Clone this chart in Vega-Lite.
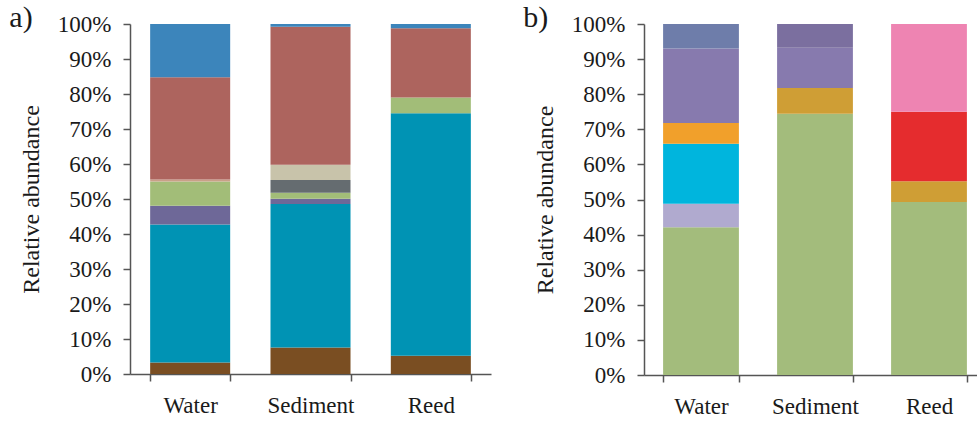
{
  "$schema": "https://vega.github.io/schema/vega-lite/v6.json",
  "padding": {"left": 9, "top": 3, "right": 0, "bottom": 0},
  "bounds": "flush",
  "spacing": 153,
  "config": {
    "font": "Liberation Serif",
    "view": {"stroke": null},
    "axis": {
      "labelFont": "Liberation Serif",
      "titleFont": "Liberation Serif",
      "labelFontSize": 23,
      "titleFontSize": 24,
      "labelColor": "#1a1a1a",
      "titleColor": "#1a1a1a",
      "titleFontWeight": "normal",
      "domainColor": "#555555",
      "tickColor": "#555555",
      "domainWidth": 1.5,
      "tickWidth": 1.5,
      "tickSize": 7,
      "grid": false
    },
    "title": {"font": "Liberation Serif", "fontSize": 30, "fontWeight": "normal", "color": "#1a1a1a", "anchor": "start", "frame": "bounds"}
  },
  "datasets": {
    "bacteria": [
      {"site": "Water", "taxon": "A1", "rank": 1, "pct": 3.3},
      {"site": "Water", "taxon": "A2", "rank": 2, "pct": 39.4},
      {"site": "Water", "taxon": "A3", "rank": 3, "pct": 5.4},
      {"site": "Water", "taxon": "A4", "rank": 4, "pct": 6.9},
      {"site": "Water", "taxon": "A5", "rank": 5, "pct": 0.6},
      {"site": "Water", "taxon": "A8", "rank": 8, "pct": 29.2},
      {"site": "Water", "taxon": "A9", "rank": 9, "pct": 15.2},
      {"site": "Sediment", "taxon": "A1", "rank": 1, "pct": 7.6},
      {"site": "Sediment", "taxon": "A2", "rank": 2, "pct": 41.0},
      {"site": "Sediment", "taxon": "A3", "rank": 3, "pct": 1.5},
      {"site": "Sediment", "taxon": "A4", "rank": 4, "pct": 1.7},
      {"site": "Sediment", "taxon": "A6", "rank": 6, "pct": 3.6},
      {"site": "Sediment", "taxon": "A7", "rank": 7, "pct": 4.4},
      {"site": "Sediment", "taxon": "A8", "rank": 8, "pct": 39.4},
      {"site": "Sediment", "taxon": "A9", "rank": 9, "pct": 0.8},
      {"site": "Reed", "taxon": "A1", "rank": 1, "pct": 5.2},
      {"site": "Reed", "taxon": "A2", "rank": 2, "pct": 69.3},
      {"site": "Reed", "taxon": "A4", "rank": 4, "pct": 4.5},
      {"site": "Reed", "taxon": "A8", "rank": 8, "pct": 19.8},
      {"site": "Reed", "taxon": "A9", "rank": 9, "pct": 1.2}
    ],
    "fungi": [
      {"site": "Water", "taxon": "B1", "rank": 1, "pct": 42.1},
      {"site": "Water", "taxon": "B2", "rank": 2, "pct": 6.7},
      {"site": "Water", "taxon": "B3", "rank": 3, "pct": 17.1},
      {"site": "Water", "taxon": "B4", "rank": 4, "pct": 5.9},
      {"site": "Water", "taxon": "B7", "rank": 7, "pct": 21.2},
      {"site": "Water", "taxon": "B8", "rank": 8, "pct": 7.0},
      {"site": "Sediment", "taxon": "B1", "rank": 1, "pct": 74.4},
      {"site": "Sediment", "taxon": "B5", "rank": 5, "pct": 7.4},
      {"site": "Sediment", "taxon": "B7", "rank": 7, "pct": 11.4},
      {"site": "Sediment", "taxon": "B9", "rank": 9, "pct": 6.8},
      {"site": "Reed", "taxon": "B1", "rank": 1, "pct": 49.3},
      {"site": "Reed", "taxon": "B5", "rank": 5, "pct": 5.9},
      {"site": "Reed", "taxon": "B6", "rank": 6, "pct": 19.8},
      {"site": "Reed", "taxon": "B10", "rank": 10, "pct": 25.0}
    ]
  },
  "resolve": {"scale": {"color": "independent", "x": "independent", "y": "independent"}},
  "hconcat": [
    {
      "width": 361,
      "height": 350,
      "title": {"text": "a)", "offset": -20, "dx": -10},
      "data": {"name": "bacteria"},
      "mark": {"type": "bar"},
      "encoding": {
        "x": {
          "field": "site", "type": "nominal", "sort": ["Water", "Sediment", "Reed"],
          "scale": {"paddingInner": 0.335, "paddingOuter": 0.1675},
          "axis": {"title": null, "labelAngle": 0, "tickBand": "extent", "labelPadding": 13}
        },
        "y": {
          "field": "pct", "type": "quantitative", "stack": "zero",
          "scale": {"domain": [0, 100], "nice": false},
          "axis": {"title": "Relative abundance", "values": [0, 10, 20, 30, 40, 50, 60, 70, 80, 90, 100], "labelExpr": "datum.value + '%'", "labelPadding": 12, "titlePadding": 14}
        },
        "color": {
          "field": "taxon", "type": "nominal",
          "scale": {
            "domain": ["A1", "A2", "A3", "A4", "A5", "A6", "A7", "A8", "A9"],
            "range": ["#7a4e22", "#0093b4", "#6e6898", "#a2bd78", "#c9a088", "#656c70", "#c8c3aa", "#ad645e", "#3c85bb"]
          },
          "legend": null
        },
        "order": {"field": "rank", "type": "quantitative"}
      }
    },
    {
      "width": 342,
      "height": 351,
      "title": {"text": "b)", "offset": -20, "dx": -10},
      "data": {"name": "fungi"},
      "mark": {"type": "bar"},
      "encoding": {
        "x": {
          "field": "site", "type": "nominal", "sort": ["Water", "Sediment", "Reed"],
          "scale": {"paddingInner": 0.335, "paddingOuter": 0.1675},
          "axis": {"title": null, "labelAngle": 0, "tickBand": "extent", "labelPadding": 13}
        },
        "y": {
          "field": "pct", "type": "quantitative", "stack": "zero",
          "scale": {"domain": [0, 100], "nice": false},
          "axis": {"title": "Relative abundance", "values": [0, 10, 20, 30, 40, 50, 60, 70, 80, 90, 100], "labelExpr": "datum.value + '%'", "labelPadding": 12, "titlePadding": 14}
        },
        "color": {
          "field": "taxon", "type": "nominal",
          "scale": {
            "domain": ["B1", "B2", "B3", "B4", "B5", "B6", "B7", "B8", "B9", "B10"],
            "range": ["#a3bc7c", "#b0aacf", "#00b5dd", "#f1a02b", "#cf9e35", "#e52c2e", "#877aae", "#6e7daa", "#7b6f9f", "#ee84b2"]
          },
          "legend": null
        },
        "order": {"field": "rank", "type": "quantitative"}
      }
    }
  ]
}
